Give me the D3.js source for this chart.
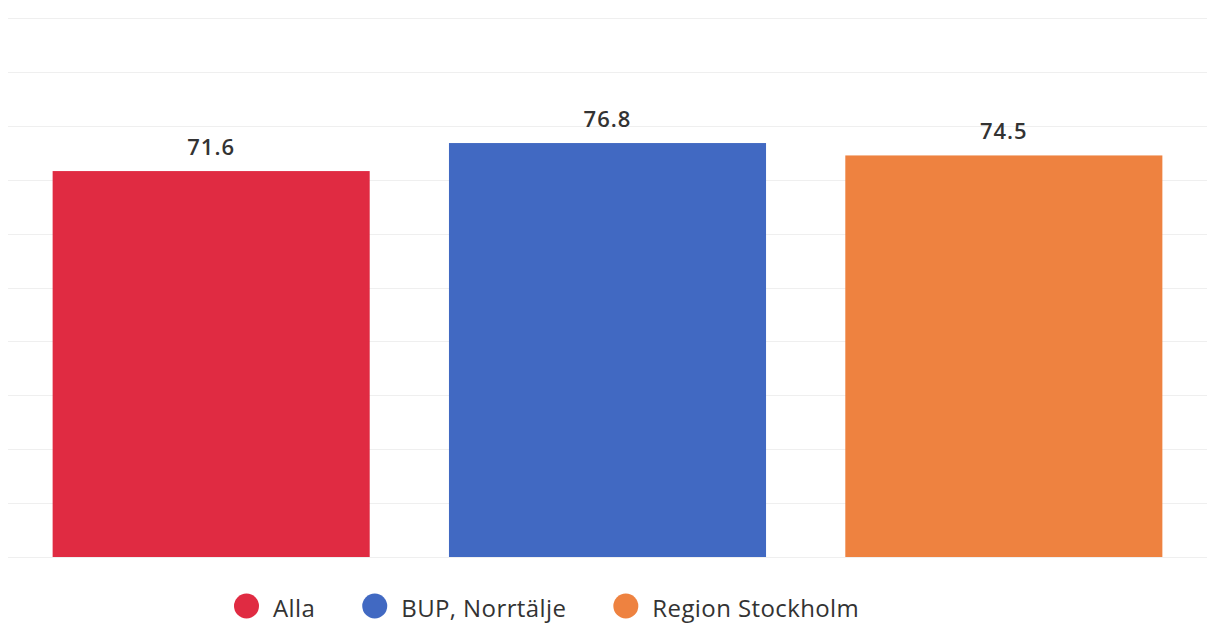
<!DOCTYPE html>
<html>
<head>
<meta charset="utf-8">
<script src="https://cdn.jsdelivr.net/npm/d3@7"></script>
<style>
html,body{margin:0;padding:0;background:#fff;}
svg{display:block;}
</style>
</head>
<body>
<svg id="chart" width="1215" height="624"></svg>
<script>
const categories = ["Alla", "BUP, Norrtälje", "Region Stockholm"];
const values = [71.6, 76.8, 74.5];
const colors = ["#E02B42", "#4169C2", "#EE8240"];
const yTicks = [0, 10, 20, 30, 40, 50, 60, 70, 80, 90, 100];

const svg = d3.select("#chart");
const FONT = "'Open Sans', 'Noto Sans', sans-serif";

const x = d3.scaleBand().domain(categories).range([13, 1202]).paddingInner(0.2).paddingOuter(0.1);
const y = d3.scaleLinear().domain([0, 100]).range([557, 18]);

// gridlines
svg.append("g").selectAll("line").data(yTicks).join("line")
  .attr("x1", 8).attr("x2", 1207)
  .attr("y1", d => Math.round(y(d)) + 0.5).attr("y2", d => Math.round(y(d)) + 0.5)
  .attr("stroke", "#efefef").attr("stroke-width", 1);

// bars
svg.append("g").selectAll("rect").data(categories).join("rect")
  .attr("x", d => x(d)).attr("width", x.bandwidth())
  .attr("y", (d, i) => y(values[i])).attr("height", (d, i) => y(0) - y(values[i]))
  .attr("fill", (d, i) => colors[i]);

// value labels
svg.append("g").selectAll("text").data(categories).join("text")
  .attr("x", d => x(d) + x.bandwidth() / 2)
  .attr("y", (d, i) => y(values[i]) - 16)
  .attr("text-anchor", "middle")
  .attr("font-family", FONT).attr("font-weight", 600).attr("font-size", 22)
  .attr("letter-spacing", 1)
  .attr("fill", "#333")
  .text((d, i) => values[i].toFixed(1));

// legend
const lg = svg.append("g");
let lx = 234;
categories.forEach((c, i) => {
  lg.append("circle").attr("cx", lx + 12.5).attr("cy", 606).attr("r", 12.5).attr("fill", colors[i]);
  const t = lg.append("text").attr("x", lx + 39).attr("y", 617)
    .attr("font-family", FONT).attr("font-size", 24).attr("letter-spacing", 0.4)
    .attr("fill", "#333").text(c);
  lx += 39 + t.node().getComputedTextLength() + 47;
});
</script>
</body>
</html>
